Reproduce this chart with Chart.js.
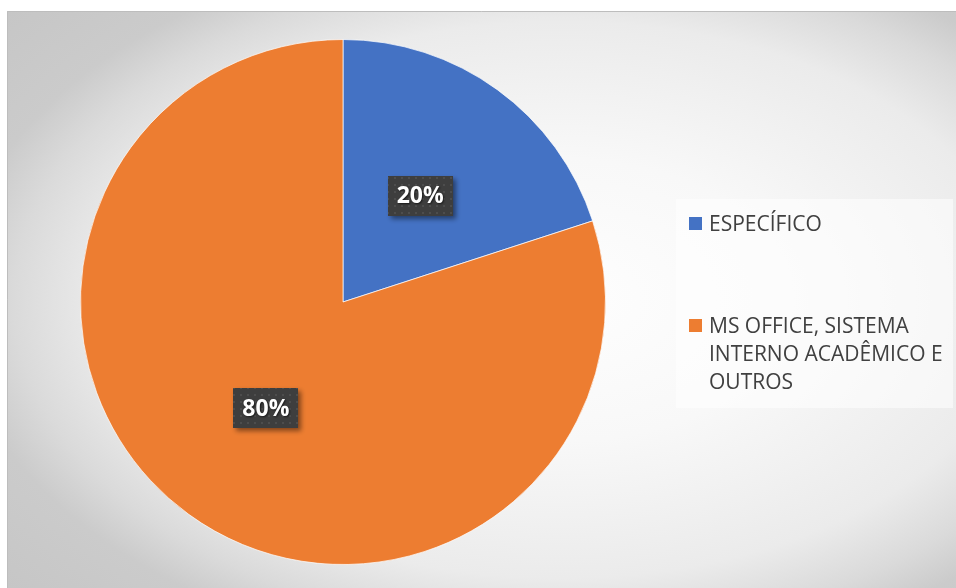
<!DOCTYPE html>
<html>
<head>
<meta charset="utf-8">
<script src="https://cdn.jsdelivr.net/npm/chart.js@4/dist/chart.umd.min.js"></script>
<style>
  html, body { margin: 0; padding: 0; background: #ffffff; }
  canvas { display: block; }
</style>
</head>
<body>
<canvas id="pie" width="956" height="588"></canvas>
<script>
// Categories and values of the pie
const categories = ['ESPECÍFICO', 'MS OFFICE, SISTEMA INTERNO ACADÊMICO E OUTROS'];
const shares = [20, 80];
const sliceColors = ['#4472C4', '#ED7D31'];

// Frame + soft radial backdrop behind the plot
const backdrop = {
  id: 'backdrop',
  beforeDraw(chart) {
    const ctx = chart.ctx;
    const W = chart.width, H = chart.height;
    const x0 = 7, y0 = 11;
    ctx.save();
    ctx.fillStyle = '#ffffff';
    ctx.fillRect(0, 0, W, H);
    // elliptical gradient, brightest right of centre
    const cx = 560, cy = 300, sx = 470, sy = 285;
    ctx.save();
    ctx.beginPath();
    ctx.rect(x0, y0, W - x0, H - y0);
    ctx.clip();
    ctx.translate(cx, cy);
    ctx.scale(sx, sy);
    const g = ctx.createRadialGradient(0, 0, 0, 0, 0, 1.55);
    g.addColorStop(0, '#fefefe');
    g.addColorStop(0.32, '#f8f8f8');
    g.addColorStop(0.63, '#ebebeb');
    g.addColorStop(0.75, '#dadada');
    g.addColorStop(0.83, '#cbcbcb');
    g.addColorStop(1, '#c6c6c6');
    ctx.fillStyle = g;
    ctx.fillRect((x0 - cx) / sx, (y0 - cy) / sy, (W - x0) / sx, (H - y0) / sy);
    ctx.restore();
    // frame line on the visible edges
    ctx.strokeStyle = '#bdbdbd';
    ctx.lineWidth = 1;
    ctx.beginPath();
    ctx.moveTo(x0 + 0.5, H);
    ctx.lineTo(x0 + 0.5, y0 + 0.5);
    ctx.lineTo(W, y0 + 0.5);
    ctx.stroke();
    ctx.restore();
  }
};

// Dotted dark fill used behind the percentage labels
function makeLabelPattern(ctx) {
  const c = document.createElement('canvas');
  c.width = 7; c.height = 7;
  const p = c.getContext('2d');
  p.fillStyle = '#3e3e3e';
  p.fillRect(0, 0, 7, 7);
  p.fillStyle = '#4d4d4d';
  p.fillRect(2, 2, 2, 2);
  return ctx.createPattern(c, 'repeat');
}

// Percentage callouts at the middle of each slice
const sliceLabels = {
  id: 'sliceLabels',
  afterDatasetsDraw(chart) {
    const ctx = chart.ctx;
    const meta = chart.getDatasetMeta(0);
    const data = chart.data.datasets[0].data;
    const total = data.reduce((a, b) => a + b, 0);
    const pattern = makeLabelPattern(ctx);
    meta.data.forEach((arc, i) => {
      const pt = arc.getCenterPoint();
      const text = Math.round(data[i] / total * 100) + '%';
      ctx.save();
      ctx.font = 'bold 23px "Open Sans", sans-serif';
      const tw = ctx.measureText(text).width;
      const bw = tw + 18, bh = 40;
      const bx = Math.round(pt.x - bw / 2), by = Math.round(pt.y - bh / 2);
      ctx.shadowColor = 'rgba(0,0,0,0.45)';
      ctx.shadowBlur = 5;
      ctx.shadowOffsetX = 3;
      ctx.shadowOffsetY = 3;
      ctx.fillStyle = pattern;
      ctx.fillRect(bx, by, bw, bh);
      ctx.shadowColor = 'rgba(0,0,0,0.6)';
      ctx.shadowBlur = 2;
      ctx.shadowOffsetX = 1;
      ctx.shadowOffsetY = 1;
      ctx.fillStyle = '#ffffff';
      ctx.textAlign = 'center';
      ctx.textBaseline = 'middle';
      ctx.fillText(text, pt.x, pt.y + 1);
      ctx.restore();
    });
  }
};

// Legend panel on the right with wrapped entries
const sideLegend = {
  id: 'sideLegend',
  afterDraw(chart) {
    const ctx = chart.ctx;
    const labels = chart.data.labels;
    const colors = chart.data.datasets[0].backgroundColor;
    const box = { x: 676, y: 199, w: 277, h: 209 };
    ctx.save();
    ctx.fillStyle = 'rgba(255,255,255,0.55)';
    ctx.fillRect(box.x, box.y, box.w, box.h);
    ctx.font = '21px "Open Sans", sans-serif';
    ctx.textBaseline = 'alphabetic';
    ctx.textAlign = 'left';
    const textX = 709, maxW = 243, lineH = 28;
    const itemTops = [217, 319];
    labels.forEach((label, i) => {
      const words = label.split(' ');
      const lines = [];
      let cur = '';
      words.forEach(w => {
        const test = cur ? cur + ' ' + w : w;
        if (cur && ctx.measureText(test).width > maxW) { lines.push(cur); cur = w; }
        else cur = test;
      });
      if (cur) lines.push(cur);
      const top = itemTops[i];
      ctx.fillStyle = colors[i];
      ctx.fillRect(689, top, 13, 13);
      ctx.fillStyle = '#404040';
      lines.forEach((ln, k) => ctx.fillText(ln, textX, top + 14 + k * lineH));
    });
    ctx.restore();
  }
};

new Chart(document.getElementById('pie'), {
  type: 'pie',
  data: {
    labels: categories,
    datasets: [{
      data: shares,
      backgroundColor: sliceColors,
      borderColor: 'rgba(255,255,255,0.7)',
      borderWidth: 1
    }]
  },
  options: {
    responsive: false,
    animation: false,
    layout: { padding: { left: 80, right: 350, top: 39, bottom: 23 } },
    plugins: {
      legend: { display: false },
      tooltip: { enabled: false }
    }
  },
  plugins: [backdrop, sliceLabels, sideLegend]
});
</script>
</body>
</html>
